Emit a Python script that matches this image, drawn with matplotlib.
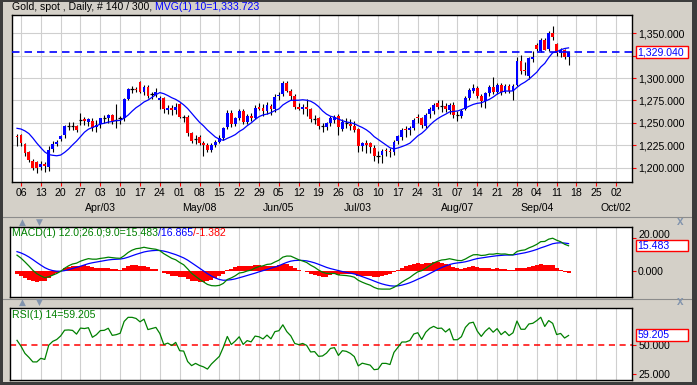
import numpy as np
import pandas as pd
import matplotlib
matplotlib.use("Agg")
import matplotlib.pyplot as plt
from matplotlib.patches import Rectangle
from matplotlib.lines import Line2D

plt.rcParams['font.family'] = ['Liberation Sans', 'DejaVu Sans']

# ---------------- data ----------------
start_date = "2017-03-03"
# closes before the visible window (used only to warm up MA / MACD / RSI)
warmup_closes = [1160, 1165, 1180, 1173, 1184, 1185, 1196, 1196, 1196, 1203, 1217, 1212,
                 1202, 1209, 1217, 1211, 1198, 1188, 1191, 1195, 1210,
                 1209, 1217, 1220, 1234, 1236, 1241, 1230, 1233, 1226, 1230, 1233, 1241,
                 1236, 1235, 1237, 1239, 1250, 1257, 1255, 1249, 1249, 1234]

opens = [1235.5, 1237, 1226, 1217, 1207, 1206, 1201, 1204, 1201, 1221, 1226, 1232, 1236, 1246, 1246, 1246,
         1253, 1254, 1251, 1252, 1245,
         1249, 1256, 1256, 1259, 1253, 1255, 1255, 1277, 1288, 1288, 1296, 1284, 1290, 1282, 1281,
         1275, 1278, 1264, 1267, 1264,
         1271, 1257, 1257, 1239, 1232, 1234, 1228, 1225, 1220, 1225, 1229, 1233, 1245, 1261, 1249,
         1256, 1263, 1251, 1258, 1256, 1268, 1267, 1263,
         1269, 1265, 1280, 1282, 1295, 1286, 1280, 1268, 1265, 1268, 1265, 1254, 1255, 1246, 1245,
         1250, 1253, 1258, 1243, 1250, 1249, 1247,
         1243, 1224, 1227, 1227, 1222, 1213, 1214, 1220, 1219, 1217, 1230, 1234, 1243, 1242, 1244,
         1257, 1255, 1247, 1260, 1263, 1272,
         1268, 1269, 1264, 1270, 1259, 1258, 1266, 1278, 1286, 1289, 1280, 1274, 1283, 1290, 1285,
         1292, 1285, 1291, 1286, 1292, 1319, 1309, 1302,
         1321, 1337, 1330, 1342, 1332, 1350, 1338, 1328, 1331, 1323]
highs = [1238, 1238, 1228, 1219, 1210, 1208, 1207, 1206, 1224, 1230, 1231, 1236, 1248, 1251, 1251, 1248,
         1261, 1257, 1256, 1255, 1253,
         1256, 1259, 1260, 1260, 1271, 1258, 1278, 1289, 1291, 1290, 1297, 1292, 1292, 1285, 1289,
         1280, 1279, 1270, 1270, 1272,
         1272, 1259, 1259, 1240, 1237, 1236, 1230, 1227, 1227, 1231, 1236, 1245, 1264, 1264, 1257,
         1265, 1265, 1260, 1261, 1270, 1272, 1271, 1273,
         1271, 1282, 1284, 1297, 1297, 1288, 1282, 1272, 1271, 1277, 1267, 1259, 1257, 1250, 1251,
         1258, 1259, 1260, 1254, 1256, 1254, 1252,
         1244, 1229, 1231, 1229, 1225, 1219, 1221, 1222, 1222, 1231, 1236, 1244, 1246, 1247, 1256,
         1260, 1257, 1261, 1268, 1272, 1275,
         1275, 1272, 1272, 1273, 1263, 1265, 1280, 1289, 1293, 1291, 1282, 1285, 1292, 1301, 1294,
         1294, 1293, 1293, 1293, 1323, 1326, 1318, 1324,
         1330, 1339, 1345, 1345, 1352, 1358, 1339, 1334, 1333, 1330]
lows = [1224, 1224, 1213, 1206, 1197, 1194, 1197, 1195, 1196, 1218, 1224, 1230, 1233, 1242, 1242, 1240,
        1248, 1248, 1247, 1241, 1240,
        1244, 1250, 1250, 1249, 1244, 1249, 1252, 1275, 1283, 1285, 1283, 1281, 1278, 1277, 1279,
        1266, 1261, 1260, 1259, 1260,
        1255, 1251, 1235, 1227, 1226, 1225, 1213, 1217, 1218, 1223, 1227, 1231, 1243, 1245, 1246,
        1253, 1249, 1249, 1252, 1254, 1264, 1258, 1260,
        1259, 1262, 1276, 1280, 1284, 1276, 1266, 1264, 1260, 1258, 1251, 1249, 1243, 1240, 1242,
        1246, 1250, 1237, 1241, 1244, 1242, 1240,
        1218, 1219, 1216, 1216, 1207, 1205, 1205, 1213, 1212, 1214, 1226, 1231, 1234, 1236, 1242,
        1250, 1244, 1244, 1256, 1260, 1266,
        1262, 1262, 1260, 1256, 1252, 1255, 1264, 1276, 1283, 1278, 1268, 1267, 1280, 1282, 1282,
        1281, 1283, 1283, 1276, 1291, 1305, 1304, 1299,
        1318, 1330, 1329, 1331, 1330, 1343, 1325, 1324, 1321, 1315]
closes = [1234.5, 1227, 1216, 1209, 1200, 1200, 1204, 1202, 1220, 1226, 1229, 1235, 1246, 1246.5, 1246, 1242,
          1253, 1252.5, 1254, 1244, 1248,
          1255, 1255.5, 1259, 1252, 1253, 1255, 1277, 1288, 1288, 1287, 1284, 1290, 1280, 1282, 1284,
          1278, 1265, 1267, 1264, 1268,
          1257, 1256.5, 1239, 1230, 1232.5, 1228, 1225, 1220, 1225, 1229, 1233, 1244, 1261, 1249, 1255,
          1263, 1251, 1258, 1256, 1267, 1266, 1263, 1270,
          1265, 1279, 1281, 1295, 1286, 1280, 1268, 1266, 1268, 1265, 1254, 1254.5, 1246, 1246.5, 1250,
          1256, 1257, 1245, 1251, 1250, 1247, 1242,
          1224, 1227, 1225, 1223, 1213, 1213.5, 1219, 1219, 1217, 1229, 1235, 1242, 1242, 1244, 1253,
          1255, 1248, 1259, 1266, 1270, 1268,
          1268.5, 1265, 1270, 1259, 1259, 1263, 1278, 1287, 1289, 1280, 1274, 1283, 1290, 1285, 1292,
          1285, 1291, 1286, 1291, 1319, 1308, 1308, 1322,
          1324, 1332, 1343, 1331, 1350, 1346, 1328, 1331, 1323, 1329.04]

day_labels = ["06", "13", "20", "27", "03", "10", "17", "24", "01", "08", "15", "22", "29", "05",
              "12", "19", "26", "03", "10", "17", "24", "31", "07", "14", "21", "28", "04", "11",
              "18", "25", "02"]
month_labels = ["Apr/03", "May/08", "Jun/05", "Jul/03", "Aug/07", "Sep/04", "Oct/02"]
month_dates = ["2017-04-03", "2017-05-08", "2017-06-05", "2017-07-03", "2017-08-07",
               "2017-09-04", "2017-10-02"]
price_ticks = [1200, 1225, 1250, 1275, 1300, 1325, 1350]
price_tick_labels = ["1,200.000", "1,225.000", "1,250.000", "1,275.000", "1,300.000", "",
                     "1,350.000"]   # 1,325 sits under the last-price box
macd_ticks = [0, 20]
macd_tick_labels = ["0.000", "20.000"]
rsi_ticks = [25, 50]
rsi_tick_labels = ["25.000", "50.000"]

title_black = "Gold, spot , Daily, # 140 / 300, "
title_blue = "MVG(1) 10=1,333.723"
macd_title = ["MACD(1) 12.0;26.0;9.0=15.483", "/16.865", "/-1.382"]
rsi_title = "RSI(1) 14=59.205"
last_price = 1329.040
last_macd = 15.483
last_rsi = 59.205

# ---------------- indicators ----------------
allc = np.array(warmup_closes + closes, dtype=float)
n0 = len(warmup_closes)
s = pd.Series(allc)
ma10 = s.rolling(10).mean().values[n0:]
ema12 = s.ewm(span=12, adjust=False).mean()
ema26 = s.ewm(span=26, adjust=False).mean()
macd_all = ema12 - ema26
sig_all = macd_all.ewm(span=9, adjust=False).mean()
macd = macd_all.values[n0:]
sig = sig_all.values[n0:]
hist = macd - sig
d = np.diff(allc)
gain = np.clip(d, 0, None)
loss = np.clip(-d, 0, None)
ag = gain[:14].mean()
al = loss[:14].mean()
rsi_all = np.full(len(allc), np.nan)
rsi_all[14] = 100 - 100 / (1 + ag / al)
for i in range(14, len(d)):
    ag = (ag * 13 + gain[i]) / 14
    al = (al * 13 + loss[i]) / 14
    rsi_all[i + 1] = 100 - 100 / (1 + ag / al)
rsi = rsi_all[n0:]

n = len(closes)
xs = np.arange(n)
dates = pd.bdate_range(start_date, periods=160)
mondays = [i for i, dd in enumerate(dates) if dd.dayofweek == 0][:len(day_labels)]
month_pos = [dates.get_loc(pd.Timestamp(m)) for m in month_dates]

# ---------------- layout ----------------
W, H = 697, 385
fig = plt.figure(figsize=(W / 100, H / 100), dpi=100)
BG = '#d4d0c8'
fig.patch.set_facecolor(BG)

PX0, PXD = 17.0, 3.968   # pixel of first bar, pixels per bar


def rect(left, top, right, bottom):
    return [left / W, 1 - bottom / H, (right - left) / W, (bottom - top) / H]


def xlim_for(left, right):
    return ((left - PX0) / PXD, (right - PX0) / PXD)


ax = fig.add_axes(rect(11.7, 15, 632, 182.3))
axm = fig.add_axes(rect(9.5, 227, 632, 297))
axr = fig.add_axes(rect(9.5, 308.3, 632, 379.5))

ax.set_xlim(*xlim_for(11.7, 632))
axm.set_xlim(*xlim_for(9.5, 632))
axr.set_xlim(*xlim_for(9.5, 632))
ax.set_ylim(1183.7, 1370.4)
axm.set_ylim(-16.3, 26.9)
axr.set_ylim(20.2, 82.6)

GRID = '#cfcfcf'
BLUE = '#0000ff'
RED = '#ff0000'
GREEN = '#008000'
FS = 7.6

for a in (ax, axm, axr):
    a.set_facecolor('white')
    for sp in a.spines.values():
        sp.set_color('black')
        sp.set_linewidth(1.0)
    a.vlines(mondays, *a.get_ylim(), colors=GRID, lw=0.8, zorder=0)
    a.yaxis.tick_right()
    a.tick_params(axis='y', colors=RED, labelcolor='black', length=3.2, width=0.8,
                  pad=1.2, labelsize=FS)

ax.hlines(price_ticks, *ax.get_xlim(), colors=GRID, lw=0.8, zorder=0)

# ---- candles ----
ax.vlines(xs, lows, highs, colors='black', lw=0.8, zorder=2)
for i in range(n):
    o, c = opens[i], closes[i]
    if abs(c - o) < 0.75:
        ax.hlines(c, i - 0.45, i + 0.45, colors='black', lw=0.9, zorder=3)
    else:
        col = BLUE if c > o else RED
        ax.bar(i, abs(c - o), bottom=min(o, c), width=0.72, color=col, lw=0, zorder=3)

ax.plot(xs, ma10, color=BLUE, lw=0.9, zorder=4)
ax.axhline(last_price, color=BLUE, lw=1.2, ls=(0, (4.5, 3)), zorder=5)

ax.set_yticks(price_ticks)
ax.set_yticklabels(price_tick_labels)
ax.set_xticks(mondays)
ax.set_xticklabels([])
ax.tick_params(axis='x', colors=RED, length=3, width=0.8, direction='out')

for p, lab in zip(mondays, day_labels):
    ax.annotate(lab, xy=(p, 0), xycoords=('data', 'axes fraction'), xytext=(0, -11),
                textcoords='offset pixels', ha='center', va='center', fontsize=FS,
                annotation_clip=False)
for p, lab in zip(month_pos, month_labels):
    ax.annotate(lab, xy=(p, 0), xycoords=('data', 'axes fraction'), xytext=(0, -26),
                textcoords='offset pixels', ha='center', va='center', fontsize=FS,
                annotation_clip=False)

# ---- MACD ----
axm.bar(xs, hist, width=1.0, color=RED, lw=0, zorder=2)
axm.plot(xs, sig, color=BLUE, lw=0.9, zorder=3)
axm.plot(xs, macd, color=GREEN, lw=0.9, zorder=4)
axm.set_yticks(macd_ticks)
axm.set_yticklabels([macd_tick_labels[0], ""])
# the 20.000 label peeks out just above the value box
axm.annotate(macd_tick_labels[1], xy=(1, macd_ticks[1]), xycoords=('axes fraction', 'data'),
             xytext=(6.3, 3.2), textcoords='offset pixels', ha='left', va='center',
             fontsize=FS, color='black', annotation_clip=False)
axm.set_xticks([])

# ---- RSI ----
axr.axhline(50, color=RED, lw=1.1, ls=(0, (4, 3)), zorder=2)
axr.plot(xs, rsi, color=GREEN, lw=0.9, zorder=3)
axr.set_yticks(rsi_ticks)
axr.set_yticklabels(rsi_tick_labels)
axr.set_xticks([])

# ---- value boxes ----
def value_box(a, val, text):
    ypx = H - a.transData.transform((0, val))[1]
    fig.add_artist(Rectangle((635.7 / W, 1 - (ypx + 5.8) / H), 52.6 / W, 11.6 / H,
                             transform=fig.transFigure, facecolor='white', edgecolor=RED,
                             lw=1.0, zorder=10))
    fig.text(637.5 / W, 1 - (ypx + 0.3) / H, text, color=BLUE, fontsize=FS, ha='left',
             va='center', zorder=11)


value_box(ax, last_price, f"{last_price:,.3f}")
value_box(axm, last_macd, f"{last_macd:.3f}")
value_box(axr, last_rsi, f"{last_rsi:.3f}")

# ---- titles ----
t1 = fig.text(11.7 / W, 1 - 7.5 / H, title_black, color='black', fontsize=FS, ha='left',
              va='center')
ax.annotate(title_blue, xy=(1, 0.5), xycoords=t1, ha='left', va='center', color=BLUE,
            fontsize=FS, annotation_clip=False)

m1 = fig.text(11.5 / W, 1 - 233.5 / H, macd_title[0], color=GREEN, fontsize=FS, ha='left',
              va='center', zorder=12)
m2 = axm.annotate(macd_title[1], xy=(1, 0.5), xycoords=m1, ha='left', va='center',
                  color=BLUE, fontsize=FS, annotation_clip=False, zorder=12)
axm.annotate(macd_title[2], xy=(1, 0.5), xycoords=m2, ha='left', va='center', color=RED,
             fontsize=FS, annotation_clip=False, zorder=12)
fig.text(11.5 / W, 1 - 315 / H, rsi_title, color=GREEN, fontsize=FS, ha='left', va='center',
         zorder=12)

# ---- panel header strips / chrome ----
ICON = '#8294ad'
for yy in (222.0, 302.3):
    fig.text(22 / W, 1 - yy / H, "\u25b2", color=ICON, fontsize=6.5, ha='center', va='center',
             family='DejaVu Sans')
    fig.text(39 / W, 1 - yy / H, "\u25bc", color=ICON, fontsize=6.5, ha='center', va='center',
             family='DejaVu Sans')
    fig.text(680 / W, 1 - yy / H, "x", color=ICON, fontsize=8.5, fontweight='bold',
             ha='center', va='center')

for yy in (217.3, 298.8):
    fig.add_artist(Line2D([3 / W, 692 / W], [1 - yy / H, 1 - yy / H], color='#8c8c8c', lw=0.8,
                          transform=fig.transFigure))

DARK = '#3c3c3c'
for (x0, y0, x1, y1) in [(0, 0, 3, 385), (0, 0, 697, 2), (692, 0, 697, 385), (0, 382, 697, 385)]:
    fig.add_artist(Rectangle((x0 / W, 1 - y1 / H), (x1 - x0) / W, (y1 - y0) / H,
                             transform=fig.transFigure, facecolor=DARK, edgecolor='none',
                             zorder=20))

fig.savefig("out.png", dpi=100, facecolor=fig.get_facecolor())
